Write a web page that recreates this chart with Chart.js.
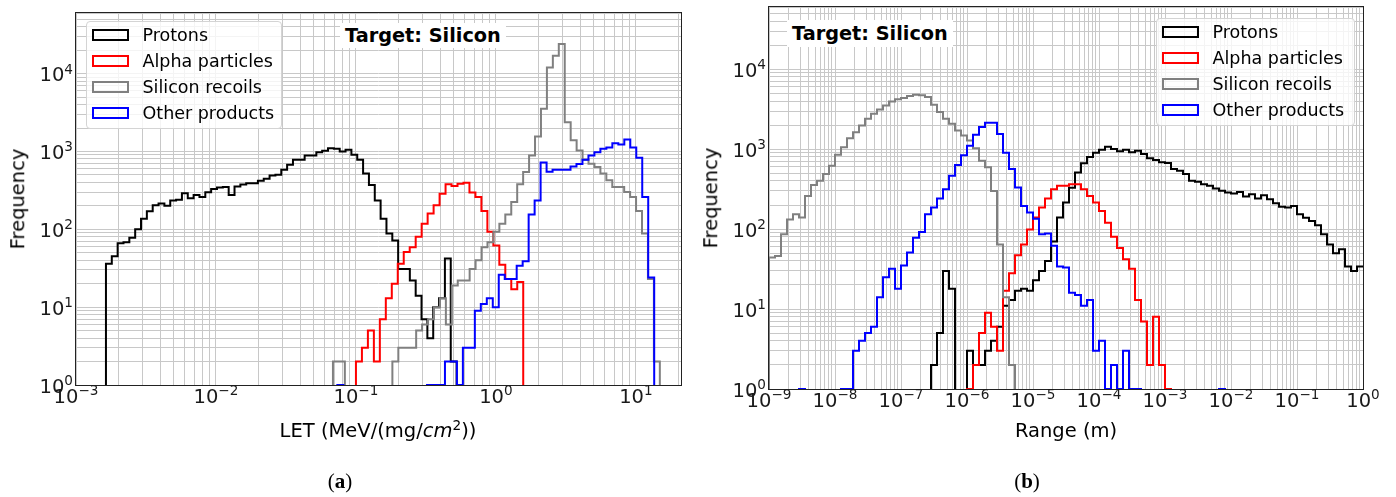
<!DOCTYPE html>
<html>
<head>
<meta charset="utf-8">
<title>LET and range of secondary products - silicon target</title>
<script src="https://cdn.jsdelivr.net/npm/chart.js@4.4.1/dist/chart.umd.min.js"></script>
<style>
  body { margin: 0; background: #fff; }
  #page { position: relative; width: 1396px; height: 497px; overflow: hidden; font-family: "DejaVu Sans", sans-serif; color: #000; }
  canvas { position: absolute; top: 0; }
  .ytitle, .xtitle { position: absolute; font-size: 19.5px; line-height: 1; white-space: nowrap; }
  .ytitle { transform: translate(-50%, -50%) rotate(-90deg); }
  .xtitle { transform: translate(-50%, -50%); }
  .xtitle sup { font-size: 0.7em; vertical-align: 0.5em; line-height: 0; }
  .legend { position: absolute; box-sizing: border-box; border: 1px solid #d4d4d4; border-radius: 4px; background: rgba(255,255,255,0.8); font-size: 17.5px; }
  .legend .row { position: absolute; left: 0; height: 26px; line-height: 26px; white-space: nowrap; }
  .legend .swatch { position: absolute; left: 4.5px; top: 7px; width: 37px; height: 12px; box-sizing: border-box; border: 2px solid; }
  .legend .label { position: absolute; left: 55.5px; top: 0; }
  .target { position: absolute; background: #fff; font-weight: bold; font-size: 19.3px; padding: 0 5px; white-space: nowrap; }
  .caption { position: absolute; top: 469px; font-family: "Liberation Serif", "DejaVu Serif", serif; font-size: 21px; line-height: 24px; transform: translateX(-50%); }
</style>
</head>
<body>
<div id="page">
  <canvas id="letChart" width="700" height="460" style="left:0px;width:700px;height:460px"></canvas>
  <canvas id="rangeChart" width="696" height="460" style="left:700px;width:696px;height:460px"></canvas>

  <div class="ytitle" style="left:17.5px;top:199px">Frequency</div>
  <div class="ytitle" style="left:711px;top:198px">Frequency</div>
  <div class="xtitle" style="left:378px;top:431px">LET (MeV/(mg/<i>cm</i><sup>2</sup>))</div>
  <div class="xtitle" style="left:1066px;top:431px">Range (m)</div>

  <div class="target" style="left:340px;top:23px;line-height:25px">Target: Silicon</div>
  <div class="target" style="left:787px;top:20px;line-height:27px">Target: Silicon</div>

  <div class="legend" id="letLegend" style="left:86px;top:21px;width:196px;height:108px"></div>
  <div class="legend" id="rangeLegend" style="left:1156px;top:18px;width:199px;height:108px"></div>

  <div class="caption" style="left:340px">(<b>a</b>)</div>
  <div class="caption" style="left:1027px">(<b>b</b>)</div>
</div>

<script>
// ---- values ----

// (a) LET histograms: every species has its own log-spaced bins
const letProtonsBinStart = -2.786;      // log10 of the first bin edge
const letProtonsBinStep = 0.04175;      // bin width in decades
const letProtons = [36, 45, 66, 68, 78, 100, 137, 170, 203, 215, 200, 235, 240, 290, 250, 275, 260, 300, 330, 345,
  350, 275, 355, 375, 390, 390, 420, 446, 492, 500, 582, 676, 780, 780, 887, 887, 977, 1020, 1100, 1080,
  1000, 1050, 910, 780, 520, 370, 235, 137, 88, 72, 31, 31, 22, 14, 7, 4, 10, 13, 42, 2];

const letAlphaBinStart = -1.0;
const letAlphaBinStep = 0.04268;
const letAlpha = [2, 3, 5, 2, 7, 13, 20, 36, 51, 59, 80, 118, 159, 203, 287, 378, 359, 385, 396, 296,
  259, 172, 93, 62, 35, 23, 17, 21];

const letSiliconBinStart = -1.1643;
const letSiliconBinStep = 0.04246;
const letSilicon = [2, 2, 0, 0, 0, 0, 0, 0, 0, 0, 2, 3, 3, 3, 5, 6, 7, 10, 13, 6,
  19, 22, 22, 31, 40, 59, 68, 93, 118, 155, 224, 378, 543, 887, 1550, 3530, 12000, 17000, 24000, 2370,
  1390, 1030, 780, 695, 630, 520, 425, 349, 349, 301, 259, 172, 88, 23, 2];

const letOtherBinStart = -1.1329;
const letOtherBinStep = 0.04271;
const letOther = [1, 0, 0, 0, 0, 0, 0, 0, 0, 0, 0, 0, 0, 0, 0, 1, 1, 1, 2, 2,
  1, 3, 3, 9, 11, 13, 10, 26, 23, 23, 34, 39, 155, 235, 720, 550, 580, 580, 580, 640,
  690, 780, 887, 977, 1080, 1125, 1277, 1230, 1426, 1125, 830, 259, 24];

// (b) range histograms: 99 common bins, log-spaced from 1e-9 m to 1 m
const rangeBinStart = -9;
const rangeBinStep = 9 / 99;

const rangeProtonsFirstBin = 27;
const rangeProtons = [2, 5, 30, 18, 0, 0, 3, 2, 2, 3, 4, 6, 11, 13, 17, 18, 17, 23, 30, 40,
  70, 140, 215, 330, 512, 665, 800, 900, 986, 1070, 1007, 942, 986, 914, 957, 871, 768, 731, 684, 670,
  563, 537, 488, 402, 390, 365, 348, 322, 301, 287, 279, 292, 255, 273, 241, 265, 236, 210, 191, 186,
  195, 153, 139, 126, 112, 86, 64, 50, 56, 34, 30, 34];

const rangeAlphaFirstBin = 33;
const rangeAlpha = [1, 2, 5, 9, 6, 3, 17, 28, 47, 64, 99, 140, 186, 241, 316, 348, 348, 365, 365, 316,
  260, 215, 168, 120, 80, 58, 42, 32, 13, 7, 2, 8, 2, 1];

const rangeSiliconFirstBin = 0;
const rangeSilicon = [44, 46, 86, 132, 153, 140, 260, 355, 402, 488, 620, 850, 1057, 1371, 1630, 1977, 2400, 2774, 3140, 3525,
  3955, 4195, 4365, 4625, 4806, 4710, 4500, 3597, 2910, 2400, 2075, 1710, 1480, 1280, 1026, 716, 592, 300, 64, 14, 2];

const rangeOtherFirstBin = 5;
const rangeOther = [1, 0, 0, 0, 0, 0, 0, 1, 1, 3, 4, 5, 6, 14, 25, 32, 18, 35, 51, 78,
  92, 153, 186, 241, 316, 464, 632, 842, 1107, 1510, 1887, 2137, 2137, 1550, 900, 563, 331, 194, 161, 135,
  86, 88, 62, 34, 33, 16, 15, 11, 13, 3, 4, 1, 2, 1, 3, 1, 1, 0, 0, 0,
  0, 0, 0, 0, 0, 0, 0, 0, 0, 0, 1];

const seriesNames = ["Protons", "Alpha particles", "Silicon recoils", "Other products"];
const seriesColors = ["#000000", "#ff0000", "#808080", "#0000ff"];

const letTickExponents = [-3, -2, -1, 0, 1];
const rangeTickExponents = [-9, -8, -7, -6, -5, -4, -3, -2, -1, 0];
const freqTickExponents = [0, 1, 2, 3, 4];
const letLimits = [1e-3, 21];
const rangeLimits = [1e-9, 1];
const freqLimits = [1, 6e4];

// ---- drawing ----
const GRID = "#c8c8c8";
const SPINE = "#222222";
const TICK_PX = 19.5;
const SUP_PX = 13.6;
const SUP_RISE = 7.5;
const BELOW_AXIS = 0.05; // empty bins go under the axis and get clipped, as in matplotlib

Chart.defaults.font.family = "DejaVu Sans";

// outline of a step histogram: one point per bin edge
function histPoints(logStart, logStep, counts) {
  const edge = (i) => Math.pow(10, logStart + i * logStep);
  const h = (c) => (c > 0 ? c : BELOW_AXIS);
  const n = counts.length;
  const pts = [{ x: edge(0), y: BELOW_AXIS }];
  counts.forEach((c, i) => pts.push({ x: edge(i), y: h(c) }));
  pts.push({ x: edge(n), y: h(counts[n - 1]) });
  pts.push({ x: edge(n), y: BELOW_AXIS });
  return pts;
}

// grid at 1..9 x 10^k, like matplotlib's major + minor log ticks
function logGridValues(lo, hi) {
  const vals = [];
  for (let e = Math.floor(Math.log10(lo)); e <= Math.ceil(Math.log10(hi)); e++) {
    for (let m = 1; m <= 9; m++) {
      const v = m * Math.pow(10, e);
      if (v >= lo * 0.999 && v <= hi * 1.001) vals.push(v);
    }
  }
  return vals;
}

function drawPower(ctx, exp, x, y, align) {
  const base = "10";
  const sup = exp < 0 ? "\u2212" + -exp : String(exp);
  ctx.font = TICK_PX + 'px "DejaVu Sans"';
  const wb = ctx.measureText(base).width;
  ctx.font = SUP_PX + 'px "DejaVu Sans"';
  const ws = ctx.measureText(sup).width;
  const left = align === "center" ? x - (wb + ws) / 2 : x - (wb + ws);
  ctx.font = TICK_PX + 'px "DejaVu Sans"';
  ctx.fillText(base, left, y);
  ctx.font = SUP_PX + 'px "DejaVu Sans"';
  ctx.fillText(sup, left + wb, y - SUP_RISE);
}

const frameAndTicks = {
  id: "frameAndTicks",
  afterDraw(chart, args, opts) {
    const { ctx, chartArea: a } = chart;
    const xs = chart.scales.x;
    const ys = chart.scales.y;
    ctx.save();
    ctx.strokeStyle = SPINE;
    ctx.lineWidth = 1;
    const l = Math.round(a.left) - 0.5, t = Math.round(a.top) - 0.5;
    const r = Math.round(a.right) + 0.5, b = Math.round(a.bottom) + 0.5;
    ctx.strokeRect(l, t, r - l, b - t);

    ctx.fillStyle = "#1a1a1a";
    ctx.textBaseline = "alphabetic";
    ctx.textAlign = "left";
    opts.xExps.forEach((e) => {
      drawPower(ctx, e, xs.getPixelForValue(Math.pow(10, e)), a.bottom + 17.5, "center");
    });
    opts.yExps.forEach((e) => {
      drawPower(ctx, e, a.left - 3, ys.getPixelForValue(Math.pow(10, e)) + 7.5, "right");
    });
    ctx.restore();
  },
};

function makeHistChart(canvasId, panel) {
  const datasets = panel.series.map((s, i) => ({
    label: seriesNames[i],
    data: histPoints(s.start, s.step, s.counts),
    borderColor: seriesColors[i],
    backgroundColor: seriesColors[i],
    borderWidth: 2,
    stepped: true,
    pointRadius: 0,
    fill: false,
    order: panel.series.length - i, // later species drawn on top
  }));

  return new Chart(document.getElementById(canvasId), {
    type: "line",
    data: { datasets },
    options: {
      responsive: false,
      animation: false,
      events: [],
      devicePixelRatio: 1,
      layout: { padding: panel.padding },
      plugins: {
        legend: { display: false },
        tooltip: { enabled: false },
        frameAndTicks: { xExps: panel.xExps, yExps: freqTickExponents },
      },
      scales: {
        x: {
          type: "logarithmic",
          position: "bottom",
          min: panel.xLimits[0],
          max: panel.xLimits[1],
          grid: { color: GRID, lineWidth: 1, drawTicks: false },
          border: { display: false },
          ticks: { display: false, autoSkip: false },
          afterBuildTicks: (scale) => {
            scale.ticks = logGridValues(panel.xLimits[0], panel.xLimits[1]).map((v) => ({ value: v }));
          },
          afterFit: (scale) => { scale.height = panel.xAxisHeight; },
        },
        y: {
          type: "logarithmic",
          position: "left",
          min: freqLimits[0],
          max: freqLimits[1],
          grid: { color: GRID, lineWidth: 1, drawTicks: false },
          border: { display: false },
          ticks: { display: false, autoSkip: false },
          afterBuildTicks: (scale) => {
            scale.ticks = logGridValues(freqLimits[0], freqLimits[1]).map((v) => ({ value: v }));
          },
          afterFit: (scale) => { scale.width = panel.yAxisWidth; },
        },
      },
    },
    plugins: [frameAndTicks],
  });
}

function buildLegend(id) {
  const box = document.getElementById(id);
  seriesNames.forEach((name, i) => {
    const row = document.createElement("div");
    row.className = "row";
    row.style.top = 26 * i + "px";
    row.style.width = "100%";
    const sw = document.createElement("span");
    sw.className = "swatch";
    sw.style.borderColor = seriesColors[i];
    const lab = document.createElement("span");
    lab.className = "label";
    lab.textContent = name;
    row.appendChild(sw);
    row.appendChild(lab);
    box.appendChild(row);
  });
}

makeHistChart("letChart", {
  xLimits: letLimits,
  xExps: letTickExponents,
  padding: { left: 0, top: 13, right: 19, bottom: 0 },
  yAxisWidth: 76,
  xAxisHeight: 75,
  series: [
    { start: letProtonsBinStart, step: letProtonsBinStep, counts: letProtons },
    { start: letAlphaBinStart, step: letAlphaBinStep, counts: letAlpha },
    { start: letSiliconBinStart, step: letSiliconBinStep, counts: letSilicon },
    { start: letOtherBinStart, step: letOtherBinStep, counts: letOther },
  ],
});

makeHistChart("rangeChart", {
  xLimits: rangeLimits,
  xExps: rangeTickExponents,
  padding: { left: 0, top: 7, right: 33, bottom: 0 },
  yAxisWidth: 69,
  xAxisHeight: 71,
  series: [
    { start: rangeBinStart + rangeProtonsFirstBin * rangeBinStep, step: rangeBinStep, counts: rangeProtons },
    { start: rangeBinStart + rangeAlphaFirstBin * rangeBinStep, step: rangeBinStep, counts: rangeAlpha },
    { start: rangeBinStart + rangeSiliconFirstBin * rangeBinStep, step: rangeBinStep, counts: rangeSilicon },
    { start: rangeBinStart + rangeOtherFirstBin * rangeBinStep, step: rangeBinStep, counts: rangeOther },
  ],
});

buildLegend("letLegend");
buildLegend("rangeLegend");
</script>
</body>
</html>
